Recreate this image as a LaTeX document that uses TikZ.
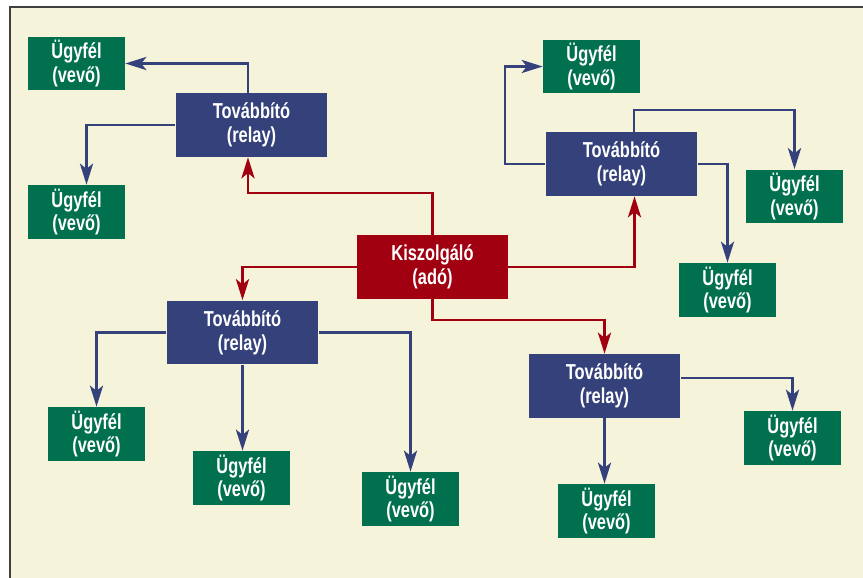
\documentclass[tikz,border=0pt]{standalone}
\usepackage{fontspec}
\usetikzlibrary{arrows.meta,calc}
\newfontfamily\dobozfont{Liberation Sans}[FakeStretch=0.76]
\definecolor{kremszin}{HTML}{F6F3DB}
\definecolor{zold}{HTML}{00704F}
\definecolor{kek}{HTML}{35417A}
\definecolor{piros}{HTML}{A0000F}
\tikzset{
  doboz/.style={inner sep=0pt, align=center, text=white,
    font=\dobozfont\bfseries\fontsize{12.3}{13.5}\selectfont},
  ugyfel/.style={doboz, fill=zold, minimum width=1.94cm, minimum height=1.08cm},
  tovabbito/.style={doboz, fill=kek, minimum width=3.04cm, minimum height=1.28cm},
  kiszolgalo/.style={doboz, fill=piros, minimum width=3.02cm, minimum height=1.28cm},
  kekvonal/.style={kek, line width=1.3pt, -{Stealth[length=12pt,width=7.5pt,inset=3pt]}},
  pirosvonal/.style={piros, line width=1.3pt, -{Stealth[length=12pt,width=7.5pt,inset=3pt]}}
}
\begin{document}
\begin{tikzpicture}[x=0.02cm, y=-0.02cm]
    \useasboundingbox (0,0) rectangle (863,578);
    % Hatter es keret
    \fill[kremszin] (10,7) rectangle (863,578);
    \draw[black!75, line width=1.2pt] (10,578) -- (10,7) -- (863,7);

    % Kiszolgalo
    \node[kiszolgalo] (S) at (432.5,267) {Kiszolgáló\\(adó)};

    % Tovabbitok
    \node[tovabbito] (R1) at (251.5,125) {Továbbító\\(relay)};
    \node[tovabbito] (R2) at (621.5,164) {Továbbító\\(relay)};
    \node[tovabbito] (R3) at (242.5,332.5) {Továbbító\\(relay)};
    \node[tovabbito] (R4) at (604.5,386) {Továbbító\\(relay)};

    % Ugyfelek
    \node[ugyfel] (G1) at (76.5,63.5) {Ügyfél\\(vevő)};
    \node[ugyfel] (G2) at (76.5,212) {Ügyfél\\(vevő)};
    \node[ugyfel] (G3) at (591.5,66.5) {Ügyfél\\(vevő)};
    \node[ugyfel] (G4) at (794.5,196.5) {Ügyfél\\(vevő)};
    \node[ugyfel] (G5) at (727.5,290) {Ügyfél\\(vevő)};
    \node[ugyfel] (G6) at (96.5,434) {Ügyfél\\(vevő)};
    \node[ugyfel] (G7) at (241.5,478) {Ügyfél\\(vevő)};
    \node[ugyfel] (G8) at (410.5,499) {Ügyfél\\(vevő)};
    \node[ugyfel] (G9) at (792.5,438) {Ügyfél\\(vevő)};
    \node[ugyfel] (G10) at (606.5,511) {Ügyfél\\(vevő)};

    % Kiszolgalo -> tovabbitok
    \draw[pirosvonal] (S.north) -- ++(0,-42) -| ($(R1.south)+(-3.5,0)$);
    \draw[pirosvonal] (S.west) -| (R3.north);
    \draw[pirosvonal] (S.east) -| ($(R2.south)+(13,0)$);
    \draw[pirosvonal] (S.south) -- ++(0,21) -| (R4.north);

    % Tovabbitok -> ugyfelek
    \draw[kekvonal] ($(R1.north)+(-3.5,0)$) |- (G1.east);
    \draw[kekvonal] (R1.west) -| ($(G2.north)+(10,0)$);
    \draw[kekvonal] (R2.west) -- ++(-40,0) |- (G3.west);
    \draw[kekvonal] ($(R2.north)+(12.5,0)$) -- ++(0,-22) -| (G4.north);
    \draw[kekvonal] (R2.east) -| (G5.north);
    \draw[kekvonal] (R3.west) -| (G6.north);
    \draw[kekvonal] (R3.south) -- (R3.south |- G7.north);
    \draw[kekvonal] (R3.east) -| (G8.north);
    \draw[kekvonal] ($(R4.east)+(0,-8)$) -| (G9.north);
    \draw[kekvonal] (R4.south) -- (R4.south |- G10.north);
\end{tikzpicture}
\end{document}
